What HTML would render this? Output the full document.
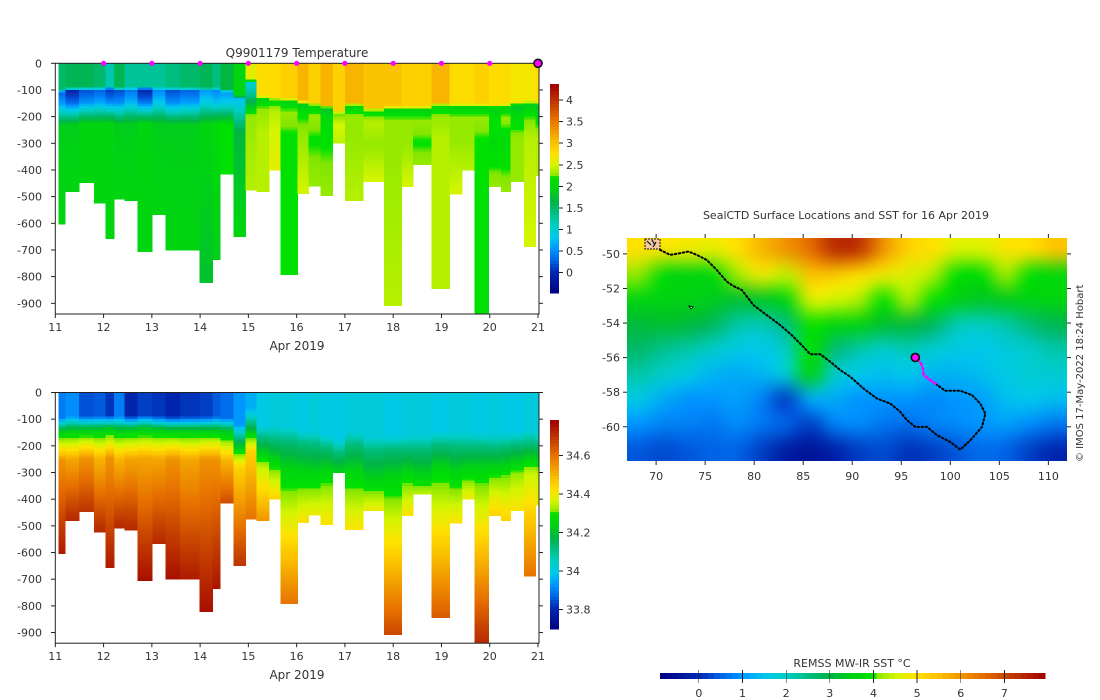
<!DOCTYPE html>
<html><head><meta charset="utf-8">
<style>
html,body{margin:0;padding:0;background:#fff;}
body{width:1100px;height:700px;overflow:hidden;position:relative;font-family:"DejaVu Sans","Liberation Sans",sans-serif;}
svg text{font-family:"DejaVu Sans","Liberation Sans",sans-serif;fill:#333;}
#map{position:absolute;left:627px;top:238px;width:440px;height:223px;}
</style></head>
<body>
<canvas id="map" width="440" height="223"></canvas>
<svg id="svg" width="1100" height="700" style="position:absolute;left:0;top:0"></svg>
<script>
// ===== profile data =====
const profTimes=[11.07,11.21,11.49,11.80,12.04,12.22,12.43,12.70,13.01,13.28,13.58,13.99,14.26,14.42,14.69,14.94,15.17,15.43,15.67,16.02,16.25,16.49,16.75,17.00,17.38,17.81,18.18,18.41,18.79,19.17,19.43,19.68,19.98,20.23,20.43,20.71,20.95];
const profEnd=21.05;
const maxDepth=[604,481,447,524,657,509,516,706,567,700,700,822,736,415,650,475,481,400,792,489,460,496,300,515,444,909,462,381,845,490,400,944,462,481,444,688,422];
const mixedLayer=[95,90,88,88,85,90,88,85,88,90,90,90,90,95,120,60,120,125,130,140,145,155,175,145,165,160,160,160,145,150,150,150,155,150,145,140,145];
const surfTemp=[1.5,1.6,1.6,1.5,1.2,1.6,1.3,1.3,1.3,1.4,1.5,1.6,1.4,1.7,2.0,2.6,2.8,2.8,2.9,3.1,2.9,3.1,2.9,3.1,3.0,3.0,2.9,2.9,3.1,2.8,2.8,2.9,2.8,2.8,2.7,2.7,2.8];
const minTemp=[0.3,0.0,0.2,0.3,0.1,0.2,0.4,0.0,0.5,0.2,0.3,0.6,0.5,0.6,0.8,1.0,2.0,2.1,2.0,1.9,2.0,1.8,2.2,2.0,2.1,2.0,2.0,2.0,2.0,2.0,2.0,2.0,1.9,2.0,1.8,1.9,1.8];
const deepTemp=[1.9,1.9,2.0,2.0,2.0,1.9,1.9,2.0,1.9,1.9,1.9,2.0,2.1,2.2,1.7,2.3,2.4,2.5,2.2,2.3,2.2,2.2,2.4,2.3,2.3,2.3,2.3,2.2,2.4,2.3,2.3,2.2,2.1,2.1,2.3,2.4,2.4];
const botTemp=[2.0,2.0,2.0,2.0,2.0,2.0,2.0,2.0,2.0,2.0,2.0,1.8,1.9,2.2,2.0,2.4,2.4,2.6,2.2,2.5,2.3,2.3,2.2,2.4,2.5,2.4,2.5,2.3,2.4,2.5,2.4,2.2,2.3,2.3,2.3,2.5,2.4];
const surfSal=[33.9,33.92,33.85,33.86,33.82,33.9,33.8,33.83,33.82,33.8,33.82,33.83,33.86,33.88,33.93,33.96,34.0,34.02,34.02,34.0,34.02,34.0,34.0,34.02,34.02,34.0,34.02,34.02,34.0,34.02,34.02,34.0,34.02,34.0,34.0,34.02,34.0];
const midSal=[34.22,34.22,34.22,34.22,34.22,34.22,34.22,34.22,34.22,34.22,34.22,34.22,34.22,34.22,34.12,34.1,34.12,34.12,34.12,34.12,34.12,34.12,34.12,34.12,34.12,34.12,34.12,34.12,34.12,34.12,34.12,34.12,34.12,34.12,34.12,34.12,34.12];
const deepSal=[34.55,34.52,34.55,34.5,34.55,34.5,34.52,34.52,34.52,34.55,34.52,34.55,34.55,34.5,34.45,34.45,34.35,34.3,34.25,34.25,34.25,34.28,34.3,34.26,34.24,34.25,34.28,34.25,34.28,34.26,34.28,34.28,34.3,34.3,34.32,34.35,34.35];
const botSal=[34.74,34.72,34.7,34.72,34.74,34.72,34.72,34.76,34.72,34.76,34.74,34.76,34.75,34.66,34.7,34.6,34.55,34.45,34.6,34.42,34.4,34.42,34.25,34.42,34.4,34.67,34.42,34.35,34.64,34.42,34.4,34.72,34.45,34.45,34.42,34.6,34.4];
const dayTicks=[11,12,13,14,15,16,17,18,19,20,21];
const depthTicks=[0,-100,-200,-300,-400,-500,-600,-700,-800,-900];
const markerDays=[12,13,14,15,16,17,18,19,20];
const tempTicks=[0,0.5,1,1.5,2,2.5,3,3.5,4];
const salTicks=[33.8,34,34.2,34.4,34.6];
// ===== map data =====
const lonTicks=[70,75,80,85,90,95,100,105,110];
const latTicks=[-50,-52,-54,-56,-58,-60];
const sstTicks=[0,1,2,3,4,5,6,7];
const sstGrid=[
[5.0,4.9,4.8,4.7,5.0,5.6,6.0,6.5,7.3,7.2,6.0,5.2,5.0,4.6,4.6,4.9,5.0,5.4],
[4.1,3.8,3.6,3.7,4.2,4.8,4.4,5.4,5.3,5.0,4.8,4.6,4.3,3.9,3.9,4.2,3.9,3.7],
[3.6,3.5,3.5,3.4,3.2,3.3,3.6,4.6,4.5,4.3,4.0,4.3,4.0,3.5,3.3,3.4,3.5,3.6],
[3.1,3.2,3.1,2.8,2.2,2.1,2.5,4.0,3.6,3.5,3.2,3.1,2.8,2.1,2.0,2.2,2.6,2.9],
[2.7,2.4,2.2,1.9,1.6,1.5,2.0,3.9,2.6,2.2,1.9,2.1,1.8,1.6,1.5,1.7,1.9,2.2],
[2.2,1.9,1.6,1.3,1.2,1.3,1.8,3.5,1.9,1.5,1.4,1.5,1.3,1.3,1.4,1.6,1.8,1.8],
[1.6,1.2,1.0,1.0,1.1,0.8,0.2,1.2,1.2,1.0,1.0,1.0,0.9,1.0,1.1,1.4,1.5,1.4],
[1.0,0.8,0.8,0.7,0.9,0.7,0.5,0.2,0.8,0.9,0.7,0.6,0.8,0.9,1.0,1.1,0.9,0.7],
[0.4,0.3,0.4,0.5,0.5,0.2,-0.2,-0.4,-0.1,0.2,0.3,0.1,0.2,0.4,0.6,0.5,0.2,0.0]];
const trackLon=[70.41,71.43,72.45,73.30,74.15,75.17,76.19,77.21,77.89,78.74,79.93,81.29,82.65,83.84,84.86,85.71,86.73,87.76,88.78,89.80,91.16,92.52,93.88,94.90,95.58,96.43,97.62,98.64,100.0,101.02,102.04,103.23,103.57,103.06,102.21,101.02,99.49,98.47];
const trackLat=[-49.77,-50.06,-49.96,-49.86,-50.06,-50.35,-50.93,-51.60,-51.86,-52.09,-52.96,-53.54,-54.12,-54.70,-55.28,-55.80,-55.80,-56.24,-56.72,-57.11,-57.79,-58.37,-58.66,-59.14,-59.62,-60.01,-60.01,-60.49,-60.88,-61.32,-60.78,-60.01,-59.24,-58.66,-58.17,-57.92,-57.92,-57.50];
const recentLon=[98.47,97.96,97.28,97.21,96.94,96.43];
const recentLat=[-57.50,-57.30,-57.01,-56.63,-56.24,-55.99];

// ===== colormap =====
const cstops=[[0,0,0,128],[0.101,0,40,175],[0.158,0,100,230],[0.214,0,150,255],[0.271,0,200,235],[0.328,0,205,195],[0.384,0,190,130],[0.441,0,180,70],[0.498,0,210,20],[0.554,0,225,0],[0.56,130,230,0],[0.611,210,245,0],[0.668,255,225,0],[0.725,250,190,0],[0.781,240,150,0],[0.838,230,110,0],[0.895,200,70,0],[1,160,0,0]];
function cmap(f){f=Math.max(0,Math.min(1,f));for(let i=1;i<cstops.length;i++){if(f<=cstops[i][0]){const a=cstops[i-1],b=cstops[i],t=(f-a[0])/(b[0]-a[0]);return [0,1,2].map(k=>Math.round(a[k+1]+(b[k+1]-a[k+1])*t));}}return [160,0,0];}
const rgb=c=>`rgb(${c[0]},${c[1]},${c[2]})`;

const NS='http://www.w3.org/2000/svg';
const svg=document.getElementById('svg');
function el(tag,attrs,parent){const e=document.createElementNS(NS,tag);for(const k in attrs)e.setAttribute(k,attrs[k]);(parent||svg).appendChild(e);return e;}
function txt(s,x,y,anchor,size,parent){const t=el('text',{x:x,y:y,'text-anchor':anchor||'middle','font-size':size||11},parent);t.textContent=s;return t;}

const X=d=>55.3+(d-11)*48.27;
function interp(ds,vs,d){if(d<=ds[0])return vs[0];for(let i=1;i<ds.length;i++){if(d<=ds[i]){const t=(d-ds[i-1])/Math.max(1e-6,ds[i]-ds[i-1]);return vs[i-1]+(vs[i]-vs[i-1])*t;}}return vs[vs.length-1];}

function panel(top0,vmin,vmax,cbTop,cbBot,ticks,tickFmt,kind,name){
  const Y=d=>top0+d*0.2667;
  const g=el('g',{});
  
  
  const cells=el('g',{'shape-rendering':'crispEdges'},g);
  
  
  for(let i=0;i<profTimes.length;i++){
    const x0=X(profTimes[i]),x1=Math.min(X(i+1<profTimes.length?profTimes[i+1]:profEnd),539);
    const m=mixedLayer[i],md=maxDepth[i];
    let ds,vs;
    if(kind==='T'){ds=[0,m,m+15,m+55,m+140,Math.max(md,m+141)];vs=[surfTemp[i],surfTemp[i],minTemp[i],minTemp[i]+0.3,deepTemp[i],botTemp[i]];}
    else{ds=[0,m,m+50,m+160,Math.max(md,m+161)];vs=[surfSal[i],surfSal[i],midSal[i],deepSal[i],botSal[i]];}
    const col=el('g',{},cells);
    
    
    for(let d=0;d<md;d+=10){
      const d1=Math.min(md,d+10);
      const v=interp(ds,vs,(d+d1)/2);
      const y0=Y(d),y1=Math.min(Y(d1),top0+940*0.2667);
      const r=el('rect',{x:x0.toFixed(2),y:y0.toFixed(2),width:(x1-x0+0.3).toFixed(2),height:(y1-y0+0.3).toFixed(2),fill:rgb(cmap((v-vmin)/(vmax-vmin)))},col);
      
      
    }
  }
  const bot=top0+940*0.2667;
  const ax=el('rect',{x:55.3,y:top0,width:539-55.3,height:bot-top0,fill:'none',stroke:'#222','stroke-width':1},g);
  
  
  depthTicks.forEach(t=>{const y=Y(-t);el('line',{x1:51,x2:55.3,y1:y,y2:y,stroke:'#222'},g);el('line',{x1:539,x2:543,y1:y,y2:y,stroke:'#222'},g);
    const l=txt(String(t),42,y+4,'end',11,g);});
  dayTicks.forEach(d=>{const x=X(d);el('line',{x1:x,x2:x,y1:bot,y2:bot+4,stroke:'#222'},g);
    const l=txt(String(d),x,bot+17,'middle',11,g);});
  const xl=txt('Apr 2019',297,bot+36,'middle',12,g);
  
  
  const cb=el('g',{'shape-rendering':'crispEdges'},g);
  
  
  const n=64;
  for(let k=0;k<n;k++){const y0=cbBot-(k+1)*(cbBot-cbTop)/n;el('rect',{x:550,y:y0,width:9,height:(cbBot-cbTop)/n+0.5,fill:rgb(cmap((k+0.5)/n))},cb);}
  ticks.forEach(t=>{const y=cbBot-(t-vmin)/(vmax-vmin)*(cbBot-cbTop);el('line',{x1:559,x2:563,y1:y,y2:y,stroke:'#222'},cb);
    const l=txt(tickFmt(t),566,y+4,'start',11,cb);});
  return {Y,g};
}
const P1=panel(63.3,-0.47,4.37,84,293,tempTicks,t=>String(t),'T','temperature-panel');
const P2=panel(392.5,33.698,34.783,420,629,salTicks,t=>String(t),'S','salinity-panel');
const tt=txt('Q9901179  Temperature',297,57,'middle',12);


markerDays.forEach(d=>{const c=el('circle',{cx:X(d),cy:63.3,r:2.6,fill:'#ff00ff'});
  
  });
const lastM=el('circle',{cx:X(21),cy:63.3,r:4,fill:'#ff00ff',stroke:'#111','stroke-width':1.6});



// ===== map =====
const LON0=67.03,LON1=111.9,LAT0=-49.08,LAT1=-61.98;
const MX=lon=>627+(lon-LON0)/(LON1-LON0)*440;
const MY=lat=>238+(lat-LAT0)/(LAT1-LAT0)*223;
(function(){
  const rows=sstGrid.length,cols=sstGrid[0].length;
  const off=document.createElement('canvas');off.width=cols;off.height=rows;
  const oc=off.getContext('2d');const img=oc.createImageData(cols,rows);
  for(let r=0;r<rows;r++)for(let c=0;c<cols;c++){const col=cmap((sstGrid[r][c]+0.89)/8.82);const p=(r*cols+c)*4;img.data[p]=col[0];img.data[p+1]=col[1];img.data[p+2]=col[2];img.data[p+3]=255;}
  oc.putImageData(img,0,0);
  const ctx=document.getElementById('map').getContext('2d');
  ctx.imageSmoothingEnabled=true;ctx.imageSmoothingQuality='high';
  ctx.drawImage(off,0,0,440,223);
})();
const mt=txt('SealCTD Surface Locations and SST for 16 Apr 2019',846,219,'middle',11);


lonTicks.forEach(l=>{const x=MX(l);el('line',{x1:x,x2:x,y1:234,y2:238,stroke:'#222'});el('line',{x1:x,x2:x,y1:461,y2:465,stroke:'#222'});
  const t=txt(String(l),x,480,'middle',11);});
latTicks.forEach(l=>{const y=MY(l);el('line',{x1:623,x2:627,y1:y,y2:y,stroke:'#222'});el('line',{x1:1067,x2:1071,y1:y,y2:y,stroke:'#222'});
  const t=txt(String(l),620,y+4,'end',11);});
const trk=el('polyline',{points:trackLon.map((l,i)=>MX(l).toFixed(1)+','+MY(trackLat[i]).toFixed(1)).join(' '),fill:'none',stroke:'#000','stroke-width':2,'stroke-dasharray':'1.5 2.5','stroke-linecap':'round'});


const rec=el('polyline',{points:recentLon.map((l,i)=>MX(l).toFixed(1)+','+MY(recentLat[i]).toFixed(1)).join(' '),fill:'none',stroke:'#ff00ff','stroke-width':2.6,'stroke-dasharray':'2 3','stroke-linecap':'round'});


const cur=el('circle',{cx:MX(recentLon[recentLon.length-1]),cy:MY(recentLat[recentLat.length-1]),r:4,fill:'#ff00ff',stroke:'#111','stroke-width':1.6});


const start=el('g',{});


el('rect',{x:645,y:239,width:15,height:10,fill:'#f4c8a0',stroke:'#111','stroke-width':1,'stroke-dasharray':'2 1'},start);
el('path',{d:'M647 241 l4 4 M652 240 l3 5 M656 242 l-3 5',stroke:'#111','stroke-width':1.2},start);
el('path',{d:'M689 306 l4 1 l-2 2 z',fill:'#fff',stroke:'#000','stroke-width':0.8});
const cr=el('text',{x:0,y:0,'font-size':10,'text-anchor':'start',transform:'translate(1083,462) rotate(-90)'});
cr.textContent='© IMOS 17-May-2022 18:24 Hobart';


const scb=el('g',{'shape-rendering':'crispEdges'});


for(let k=0;k<64;k++){el('rect',{x:660+k*385/64,y:673,width:385/64+0.5,height:6,fill:rgb(cmap((k+0.5)/64))},scb);}
sstTicks.forEach(t=>{const x=660+(t+0.89)/8.82*385;el('line',{x1:x,x2:x,y1:670,y2:683,stroke:'#222','stroke-width':0.8},scb);
  const l=txt(String(t),x,697,'middle',11,scb);});
const sl=txt('REMSS MW-IR SST °C',852,667,'middle',11);


</script>
</body></html>
